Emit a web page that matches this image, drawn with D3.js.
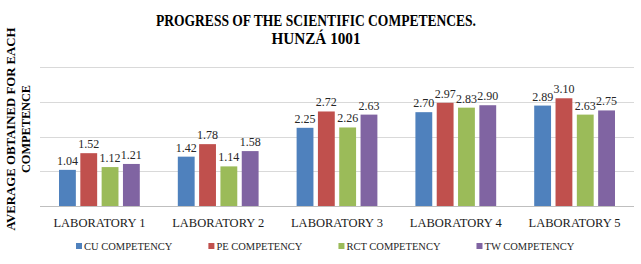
<!DOCTYPE html>
<html>
<head>
<meta charset="utf-8">
<script src="https://cdn.jsdelivr.net/npm/d3@7"></script>
<style>
	body { margin: 0; background: #fff; }
	svg { display: block; }
</style>
</head>
<body>
<div class="chart"></div>
<script>
/* global d3 */

const laboratories = ["LABORATORY 1", "LABORATORY 2", "LABORATORY 3", "LABORATORY 4", "LABORATORY 5"];
const competencies = ["CU COMPETENCY", "PE COMPETENCY", "RCT COMPETENCY", "TW COMPETENCY"];
const cuValues = [1.04, 1.42, 2.25, 2.70, 2.89];
const peValues = [1.52, 1.78, 2.72, 2.97, 3.10];
const rctValues = [1.12, 1.14, 2.26, 2.83, 2.63];
const twValues = [1.21, 1.58, 2.63, 2.90, 2.75];
const gridTicks = [0, 1, 2, 3, 4];
const titleLines = ["PROGRESS OF THE SCIENTIFIC COMPETENCES.", "HUNZÁ 1001"];
const yTitleLines = ["AVERAGE OBTAINED FOR EACH", "COMPETENCE"];

const colors = ["#4f81bd", "#c0504d", "#9bbb59", "#8064a2"];

(function () {
	drawChart();
}());

function drawChart() {

	const widthSVG = 641,
		heightSVG = 264;
	const serif = "'Liberation Serif', 'DejaVu Serif', serif";

	const series = [cuValues, peValues, rctValues, twValues];

	const svg = d3.select(".chart").append("svg")
		.attr("width", widthSVG)
		.attr("height", heightSVG);

	const x = d3.scaleBand()
		.domain(laboratories)
		.range([40, 634])
		.paddingInner(0.32)
		.paddingOuter(0.16);

	const xInner = d3.scaleBand()
		.domain(competencies)
		.range([0, x.bandwidth()])
		.paddingInner(0.21);

	const y = d3.scaleLinear()
		.domain([0, 4])
		.range([206, 67]);

	// gridlines, the zero line is a bit darker
	svg.append("g").selectAll("line")
		.data(gridTicks)
		.enter().append("line")
		.attr("x1", 40)
		.attr("x2", 634)
		.attr("y1", function (d) { return Math.round(y(d)) + 0.5; })
		.attr("y2", function (d) { return Math.round(y(d)) + 0.5; })
		.attr("stroke", function (d) { return d === 0 ? "#bfbfbf" : "#d9d9d9"; })
		.attr("stroke-width", 1);

	// flatten to one row per bar
	let rows = [];
	laboratories.forEach(function (lab, i) {
		competencies.forEach(function (comp, j) {
			rows.push({lab: lab, comp: comp, value: series[j][i], color: colors[j]});
		});
	});

	const bars = svg.append("g");
	bars.selectAll("rect")
		.data(rows)
		.enter().append("rect")
		.attr("x", function (d) { return x(d.lab) + xInner(d.comp); })
		.attr("y", function (d) { return y(d.value); })
		.attr("width", xInner.bandwidth())
		.attr("height", function (d) { return y(0) - y(d.value); })
		.attr("fill", function (d) { return d.color; });

	bars.selectAll("text")
		.data(rows)
		.enter().append("text")
		.attr("x", function (d) { return x(d.lab) + xInner(d.comp) + xInner.bandwidth() / 2; })
		.attr("y", function (d) { return y(d.value) - 5; })
		.attr("text-anchor", "middle")
		.attr("font-family", serif)
		.attr("font-size", 12)
		.attr("fill", "#262626")
		.text(function (d) { return d.value.toFixed(2); });

	// category labels
	const xAxis = d3.axisBottom(x).tickSize(0).tickPadding(0);
	const gx = svg.append("g")
		.attr("transform", "translate(0,227)")
		.call(xAxis);
	gx.select(".domain").remove();
	gx.selectAll("text")
		.attr("dy", 0)
		.attr("font-family", serif)
		.attr("font-size", 12.5)
		.attr("fill", "#1a1a1a");

	// title
	const titleWidths = [320, 89];
	svg.append("g").selectAll("text")
		.data(titleLines)
		.enter().append("text")
		.attr("x", 316)
		.attr("y", function (d, i) { return 26 + i * 18; })
		.attr("text-anchor", "middle")
		.attr("font-family", serif)
		.attr("font-weight", "bold")
		.attr("font-size", 16)
		.attr("textLength", function (d, i) { return titleWidths[i]; })
		.attr("lengthAdjust", "spacingAndGlyphs")
		.attr("fill", "#000")
		.text(function (d) { return d; });

	// y axis title
	const yTitleWidths = [203, 88];
	svg.append("g").selectAll("text")
		.data(yTitleLines)
		.enter().append("text")
		.attr("transform", function (d, i) { return "translate(" + (15 + i * 14.5) + ",129) rotate(-90)"; })
		.attr("text-anchor", "middle")
		.attr("font-family", serif)
		.attr("font-weight", "bold")
		.attr("font-size", 13)
		.attr("textLength", function (d, i) { return yTitleWidths[i]; })
		.attr("lengthAdjust", "spacingAndGlyphs")
		.attr("fill", "#000")
		.text(function (d) { return d; });

	// legend, items laid out one after the other
	const legend = svg.append("g").attr("transform", "translate(76,246)");
	let offset = 0;
	competencies.forEach(function (comp, j) {
		const item = legend.append("g").attr("transform", "translate(" + offset + ",0)");
		item.append("rect")
			.attr("x", 0)
			.attr("y", -3)
			.attr("width", 6)
			.attr("height", 6)
			.attr("fill", colors[j]);
		const label = item.append("text")
			.attr("x", 8)
			.attr("y", 4)
			.attr("font-family", serif)
			.attr("font-size", 10.5)
			.attr("fill", "#262626")
			.text(comp);
		offset += 8 + label.node().getComputedTextLength() + 36;
	});
}
</script>
</body>
</html>
